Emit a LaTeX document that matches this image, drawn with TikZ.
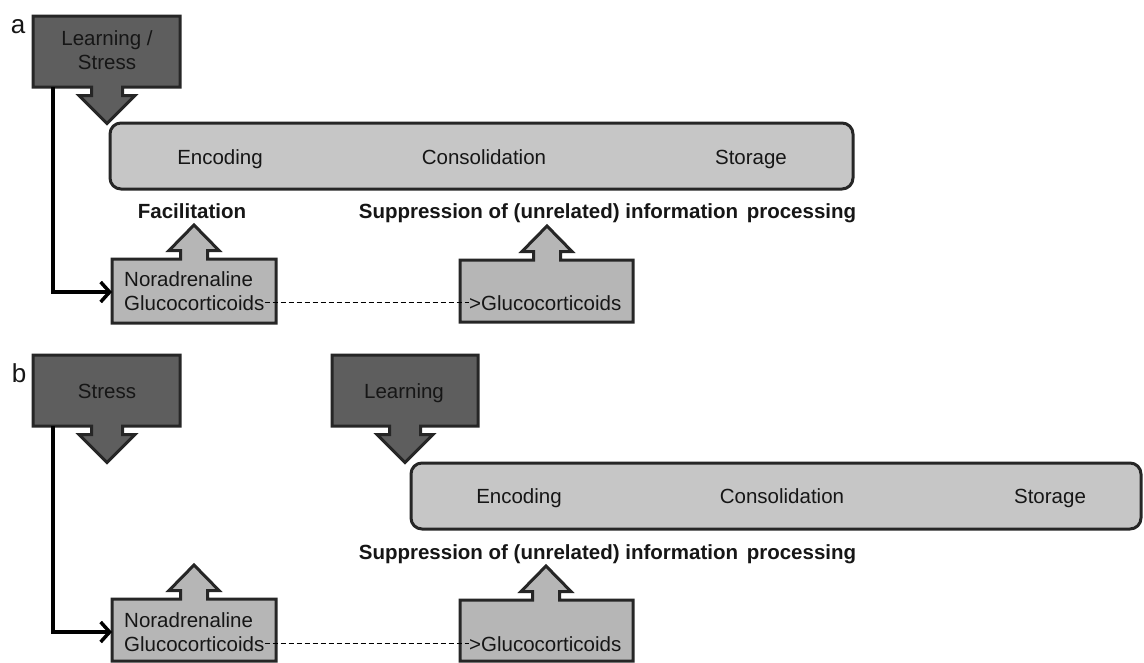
\documentclass[tikz,border=0pt]{standalone}
\usepackage{fontspec}
\setmainfont{Liberation Sans}
\usetikzlibrary{arrows.meta}
\definecolor{dk}{RGB}{94,94,94}
\definecolor{lt}{RGB}{198,198,198}
\definecolor{md}{RGB}{182,182,182}
\definecolor{edge}{RGB}{38,38,38}
\definecolor{txt}{RGB}{22,22,22}
% down-pointing callout: style, x1, y1, x2, y2, arrow centre x
\newcommand\dncallout[6]{%
  \filldraw[#1] (#2,#3) -- (#4,#3) -- (#4,#5) -- ({#6+15.5},#5) -- ({#6+15.5},{#5+8.5})
    -- ({#6+28},{#5+8.5}) -- (#6,{#5+36.5}) -- ({#6-28},{#5+8.5}) -- ({#6-15.5},{#5+8.5})
    -- ({#6-15.5},#5) -- (#2,#5) -- cycle;}
% up-pointing callout: style, x1, y1, x2, y2, arrow centre x
\newcommand\upcallout[6]{%
  \filldraw[#1] (#2,#3) -- ({#6-13.5},#3) -- ({#6-13.5},{#3-8.5}) -- ({#6-25},{#3-8.5})
    -- (#6,{#3-34}) -- ({#6+25},{#3-8.5}) -- ({#6+13.5},{#3-8.5}) -- ({#6+13.5},#3)
    -- (#4,#3) -- (#4,#5) -- (#2,#5) -- cycle;}
\begin{document}
\begin{tikzpicture}[x=1pt,y=-1pt,
  darkbox/.style={fill=dk, draw=edge, line width=3pt, line join=miter},
  midbox/.style={fill=md, draw=edge, line width=3pt, line join=miter},
  roundbox/.style={fill=lt, draw=edge, line width=3pt, rounded corners=11pt},
  t/.style={font=\fontsize{20.5}{23.5}\selectfont, text=txt, inner sep=0pt, anchor=base},
  tb/.style={t, font=\fontsize{20.5}{23.5}\selectfont\bfseries},
  panel/.style={font=\fontsize{26}{30}\selectfont, text=txt, inner sep=0pt, anchor=base},
  conn/.style={line width=3.5pt, draw=black, -{Straight Barb[length=9pt,width=20pt]}},
  dashconn/.style={line width=1.3pt, draw=black, dash pattern=on 5pt off 3pt}]
\useasboundingbox (0,0) rectangle (1144,662);

% ---------------- panel a ----------------
\dncallout{darkbox}{33}{16}{180}{87}{107}
\filldraw[roundbox] (110,123) rectangle (853,189);
\upcallout{midbox}{112}{259}{276}{323}{194}
\upcallout{midbox}{460}{260}{633}{322}{547}

\coordinate (lsAbot) at (53,87);
\coordinate (naAin) at (112,292);
\draw[conn] (lsAbot) |- (naAin);

\node[panel] (labA) at (18,33) {a};
\node[t, align=center] (lsA) at (107,69) {Learning /\\Stress};
\node[t] (encA) at (220,164) {Encoding};
\node[t] (conA) at (484,164) {Consolidation};
\node[t] (stoA) at (751,164) {Storage};
\node[tb] (facA) at (192,218) {Facilitation};
\node[tb] (supA) at (607.5,218) {Suppression of (unrelated) information\hspace{3pt} processing};
\node[t, anchor=base west] (naA) at (124,286) {Noradrenaline};
\node[t, anchor=base west] (gcA) at (124,310) {Glucocorticoids};
\node[t, anchor=base west] (gcA2) at (469,310) {>Glucocorticoids};
\draw[dashconn] (gcA.east) -- (gcA2.west);

% ---------------- panel b ----------------
\dncallout{darkbox}{33}{355}{180}{426}{107}
\dncallout{darkbox}{332}{355}{478}{426}{405}
\filldraw[roundbox] (411,463) rectangle (1141,529);
\upcallout{midbox}{112}{599}{276}{661}{194}
\upcallout{midbox}{460}{600}{633}{661}{546}

\coordinate (stBbot) at (53,426);
\coordinate (naBin) at (112,632);
\draw[conn] (stBbot) |- (naBin);

\node[panel] (labB) at (19,382) {b};
\node[t] (stB) at (107,398) {Stress};
\node[t] (leB) at (404,398) {Learning};
\node[t] (encB) at (519,503) {Encoding};
\node[t] (conB) at (782,503) {Consolidation};
\node[t] (stoB) at (1050,503) {Storage};
\node[tb] (supB) at (607.5,559) {Suppression of (unrelated) information\hspace{3pt} processing};
\node[t, anchor=base west] (naB) at (124,627) {Noradrenaline};
\node[t, anchor=base west] (gcB) at (124,651) {Glucocorticoids};
\node[t, anchor=base west] (gcB2) at (469,651) {>Glucocorticoids};
\draw[dashconn] (gcB.east) -- (gcB2.west);
\end{tikzpicture}
\end{document}
